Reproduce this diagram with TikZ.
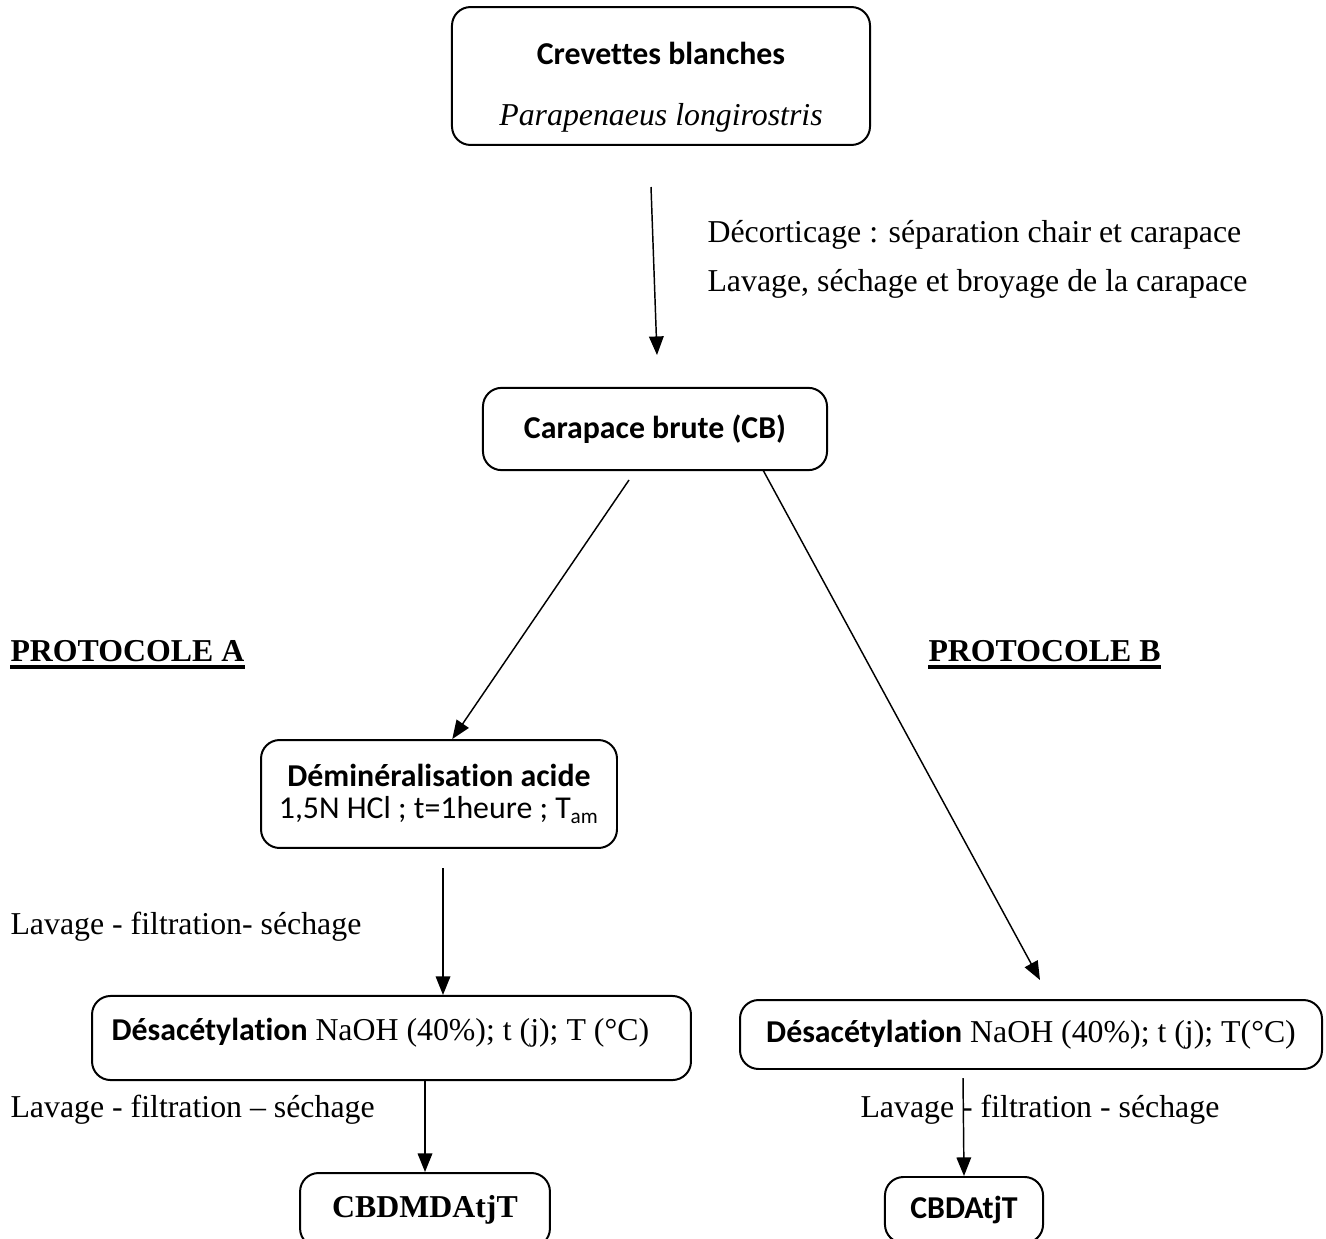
\documentclass[tikz,border=0pt]{standalone}
\usepackage{fontspec}
\setmainfont{Liberation Serif}
\newfontfamily\calib[Ligatures=NoCommon]{Carlito}
\usetikzlibrary{arrows.meta}

\tikzset{
  box/.style={draw, line width=0.75pt, rounded corners=7pt, inner sep=2pt},
  flow/.style={-{Triangle[length=7pt,width=5.5pt]}, line width=0.55pt},
  note/.style={anchor=west, inner sep=0pt},
  uline/.style={line width=1.5pt}
}

\begin{document}
\begin{tikzpicture}[x=0.377pt, y=-0.377pt, font=\fontsize{12}{14}\selectfont]
    \useasboundingbox (0,0) rectangle (1326,1238);

    % boxes
    \node[box, minimum width=157.6pt, minimum height=52pt] (crev) at (661,76) {};
    \node (crevT) at (661,53) {\calib\bfseries Crevettes blanches};
    \node (crevS) at (661,118) {\textit{Parapenaeus longirostris}};

    \node[box, minimum width=129.7pt, minimum height=31pt] (cb) at (655,429)
      {\calib\bfseries Carapace brute (CB)};

    \node[box, align=center, minimum width=134.2pt, minimum height=40.7pt] (dem) at (439,794)
      {{\calib\bfseries Déminéralisation acide}\\[-2pt]{\calib 1,5N HCl ; t=1heure ; T\textsubscript{am}}};

    \node[box, minimum width=225.8pt, minimum height=31.7pt] (desA) at (391.5,1038) {};
    \node[note] (desAT) at (111,1033) {{\calib\bfseries Désacétylation} NaOH (40\%); t (j); T (°C)};

    \node[box, minimum width=219.4pt, minimum height=26pt] (desB) at (1031,1034.5)
      {{\calib\bfseries Désacétylation} NaOH (40\%); t (j); T(°C)};

    \node[box, minimum width=94.2pt, minimum height=27.9pt] (prodA) at (425,1210)
      {\bfseries CBDMDAtjT};
    \node[box, minimum width=59.6pt, minimum height=24.9pt] (prodB) at (964,1210)
      {\calib\bfseries CBDAtjT};

    % titles
    \node[note] (protA) at (10,651) {\bfseries PROTOCOLE A};
    \node[note] (protB) at (928,651) {\bfseries PROTOCOLE B};
    \draw[uline] ([yshift=-2.2pt]protA.base west) -- ([yshift=-2.2pt]protA.base east);
    \draw[uline] ([yshift=-2.2pt]protB.base west) -- ([yshift=-2.2pt]protB.base east);

    % step texts
    \node[note] (decor) at (707,235) {Décorticage : séparation chair et carapace};
    \node[note] (broy) at (707,284) {Lavage, séchage et broyage de la carapace};
    \node[note] (lavA1) at (10,927) {Lavage - filtration- séchage};
    \node[note] (lavA2) at (10,1110) {Lavage - filtration – séchage};
    \node[note] (lavB) at (860,1110) {Lavage - filtration - séchage};

    % arrow ends
    \coordinate (c1) at (651,187);
    \coordinate (c2) at (657,355);
    \coordinate (c3) at (629,480);
    \coordinate (c4) at (763,470);
    \coordinate (c5) at (1040,980);
    \coordinate (c6) at (443,868);
    \coordinate (c7) at (963,1078);

    \draw[flow] (c1) -- (c2);
    \draw[flow] (c3) -- ([xshift=5pt]dem.north);
    \draw[flow] (c4) -- (c5);
    \draw[flow] (c6) -- (desA.north -| c6);
    \draw[flow] (desA.south -| prodA.north) -- (prodA.north);
    \draw[flow] (c7) -- (prodB.north);
  \end{tikzpicture}
\end{document}
